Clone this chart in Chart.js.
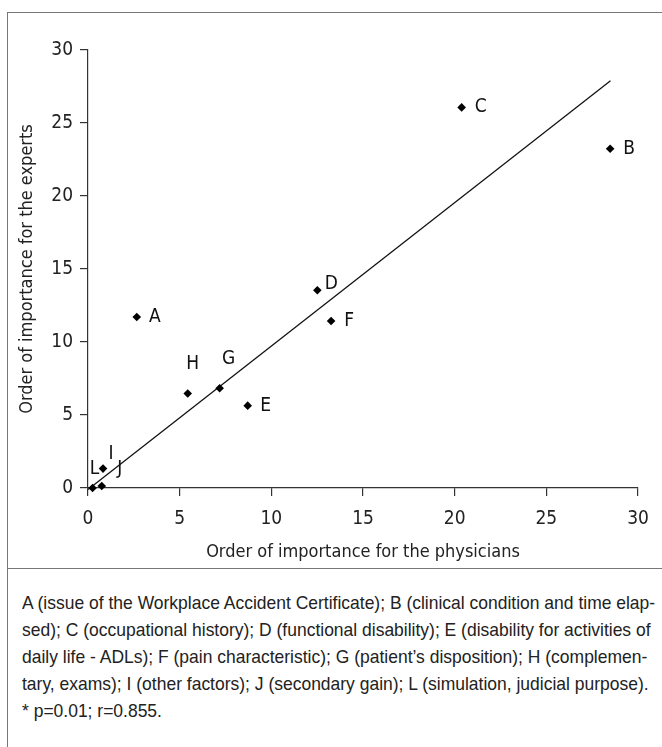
<!DOCTYPE html>
<html>
<head>
<meta charset="utf-8">
<script src="https://cdn.jsdelivr.net/npm/chart.js@4.4.0/dist/chart.umd.min.js"></script>
<style>
    html, body { margin: 0; padding: 0; background: #fff; }
    body {
        width: 662px; height: 747px; overflow: hidden; position: relative;
        font-family: "Liberation Sans", Arial, sans-serif;
        color: #222;
    }
    #frame { position: absolute; left: 7px; top: 12px; width: 700px; height: 800px;
             border-left: 1.5px solid #777; border-top: 1.5px solid #777; }
    #sep { position: absolute; left: 7px; top: 568px; width: 700px; border-top: 1.5px solid #777; }
    #chartBox { position: absolute; left: 0; top: 0; width: 662px; height: 580px; }
    /* condensed look: justified box squeezed back to 616px */
    #caption { position: absolute; left: 22px; top: 589px; width: 670px; font-size: 19px; line-height: 27px;
               transform: scaleX(0.92); transform-origin: 0 0; }
    #caption span { display: block; text-align: justify; text-align-last: justify; white-space: nowrap; }
    #caption span.last { text-align-last: left; }
</style>
</head>
<body>
<div id="frame"></div>
<div id="chartBox"><canvas id="scatter" width="662" height="580"></canvas></div>
<div id="sep"></div>
<div id="caption">
    <span>A (issue of the Workplace Accident Certificate); B (clinical condition and time elap-</span>
    <span>sed); C (occupational history); D (functional disability); E (disability for activities of</span>
    <span>daily life - ADLs); F (pain characteristic); G (patient’s disposition); H (complemen-</span>
    <span>tary, exams); I (other factors); J (secondary gain); L (simulation, judicial purpose).</span>
    <span class="last">* p=0.01; r=0.855.</span>
</div>
<script>
// values
const factors = ['A', 'B', 'C', 'D', 'E', 'F', 'G', 'H', 'I', 'J', 'L'];
const physicians = [2.66, 28.48, 20.38, 12.51, 8.71, 13.26, 7.18, 5.44, 0.82, 0.75, 0.25];
const experts = [11.71, 23.24, 26.07, 13.54, 5.64, 11.44, 6.83, 6.47, 1.33, 0.14, 0.0];
const fitX = [0, 28.5];
const fitY = [-0.1, 27.9];
const axisTicks = [0, 5, 10, 15, 20, 25, 30];

const FONT = '"DejaVu Sans Condensed", "Liberation Sans", sans-serif';
const axisColor = '#333';

// where each letter sits relative to its marker (px)
const labelOffset = {
    A: [18, 0], B: [19, 0], C: [19, 0], D: [14, -6], E: [18, 0], F: [18, 0],
    G: [9, -29], H: [5, -29], I: [8, -15], J: [18, -17], L: [2, -19]
};

const pointLabels = {
    id: 'pointLabels',
    afterDatasetsDraw(chart) {
        const ctx = chart.ctx;
        const meta = chart.getDatasetMeta(0);
        ctx.save();
        ctx.font = `19px ${FONT}`;
        ctx.fillStyle = '#111';
        ctx.textAlign = 'center';
        ctx.textBaseline = 'middle';
        meta.data.forEach((pt, i) => {
            const [dx, dy] = labelOffset[factors[i]];
            ctx.fillText(factors[i], pt.x + dx, pt.y + dy);
        });
        ctx.restore();
    }
};

const step = axisTicks[1] - axisTicks[0];
const lo = axisTicks[0];
const hi = axisTicks[axisTicks.length - 1];

function axis(titleText, extra) {
    return Object.assign({
        type: 'linear', min: lo, max: hi,
        ticks: { stepSize: step, color: '#222', font: { family: FONT, size: 19 } },
        grid: { drawOnChartArea: false, drawTicks: true, tickLength: 8, color: axisColor, lineWidth: 1.2 },
        border: { display: true, color: axisColor, width: 1.2 },
        title: { display: true, text: titleText, color: '#222', font: { family: FONT, size: 18 } }
    }, extra);
}

const xScale = axis('Order of importance for the physicians', {
    afterFit: s => { s.height = 580 - 488; }
});
xScale.ticks.padding = 12;
xScale.title.padding = { top: 0, bottom: 17 };

const yScale = axis('Order of importance for the experts', {
    afterFit: s => { s.width = 88; }
});
yScale.ticks.padding = 7;
yScale.title.padding = { top: 17, bottom: 0 };

new Chart(document.getElementById('scatter').getContext('2d'), {
    type: 'scatter',
    data: {
        datasets: [
            {
                label: 'Factors',
                data: physicians.map((v, i) => ({ x: v, y: experts[i] })),
                pointStyle: 'rectRot',
                pointRadius: 4.3,
                pointHoverRadius: 4.3,
                backgroundColor: '#000',
                borderColor: '#000',
                borderWidth: 0,
                clip: false
            },
            {
                label: 'Fit',
                data: fitX.map((v, i) => ({ x: v, y: fitY[i] })),
                showLine: true,
                pointRadius: 0,
                borderColor: '#111',
                borderWidth: 1.3,
                clip: false
            }
        ]
    },
    options: {
        responsive: false,
        animation: false,
        layout: { padding: { top: 50, right: 24, left: 0, bottom: 0 } },
        plugins: { legend: { display: false }, tooltip: { enabled: false } },
        scales: { x: xScale, y: yScale }
    },
    plugins: [pointLabels]
});
</script>
</body>
</html>
